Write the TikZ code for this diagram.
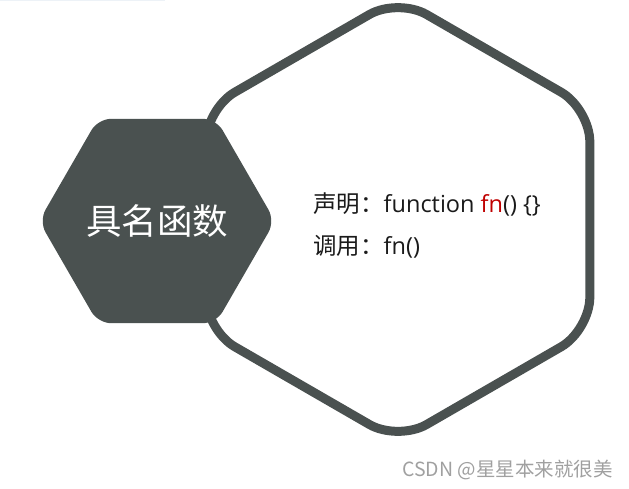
\documentclass[tikz,border=0pt]{standalone}
\usepackage{fontspec}
\setmainfont{Open Sans}
\newfontfamily\cjkfont{Noto Sans CJK SC}
\usetikzlibrary{calc}
\definecolor{hexgray}{HTML}{4A5150}
\definecolor{fnred}{HTML}{C00000}
\definecolor{textdark}{HTML}{1A1A1A}
\definecolor{markgray}{HTML}{A0A0A0}
\definecolor{rulelight}{HTML}{EDF2F7}
\tikzset{every node/.append style={inner sep=0pt}}

\begin{document}
\begin{tikzpicture}[x=1pt,y=-1pt,
    outerhex/.style={draw=hexgray,fill=white,line width=9pt,rounded corners=33pt},
    innerhex/.style={fill=hexgray,rounded corners=13pt},
    codeline/.style={anchor=base west,text=textdark,font=\fontsize{23.5}{28}\selectfont}]
  \useasboundingbox (0,0) rectangle (629,488);
  \coordinate (B) at (398,219.5);
  \coordinate (S) at (157,221);
  \draw[rulelight,line width=1.2pt] (0,0.6) -- (165,0.6);
  % big outlined hexagon
  \draw[outerhex] (B) ++(90:221.5) -- ($(B)+(30:221.5)$) -- ($(B)+(-30:221.5)$)
    -- ($(B)+(-90:221.5)$) -- ($(B)+(-150:221.5)$) -- ($(B)+(150:221.5)$) -- cycle;
  % small filled hexagon
  \fill[innerhex] (S) ++(0:118) -- ($(S)+(60:118)$) -- ($(S)+(120:118)$)
    -- ($(S)+(180:118)$) -- ($(S)+(240:118)$) -- ($(S)+(300:118)$) -- cycle;
  \node[text=white,font=\cjkfont\fontsize{35.5}{40}\selectfont] (title) at (S) {具名函数};
  \node[codeline] (decl) at (313,212)
    {{\cjkfont 声明：}function {\color{fnred}fn}() \{\}};
  \node[codeline] (call) at (313,254) {{\cjkfont 调用：}fn()};
  \node[anchor=base east,text=markgray,font=\cjkfont\fontsize{19.5}{22}\selectfont]
    (mark) at (613,476) {CSDN @星星本来就很美};
\end{tikzpicture}
\end{document}
